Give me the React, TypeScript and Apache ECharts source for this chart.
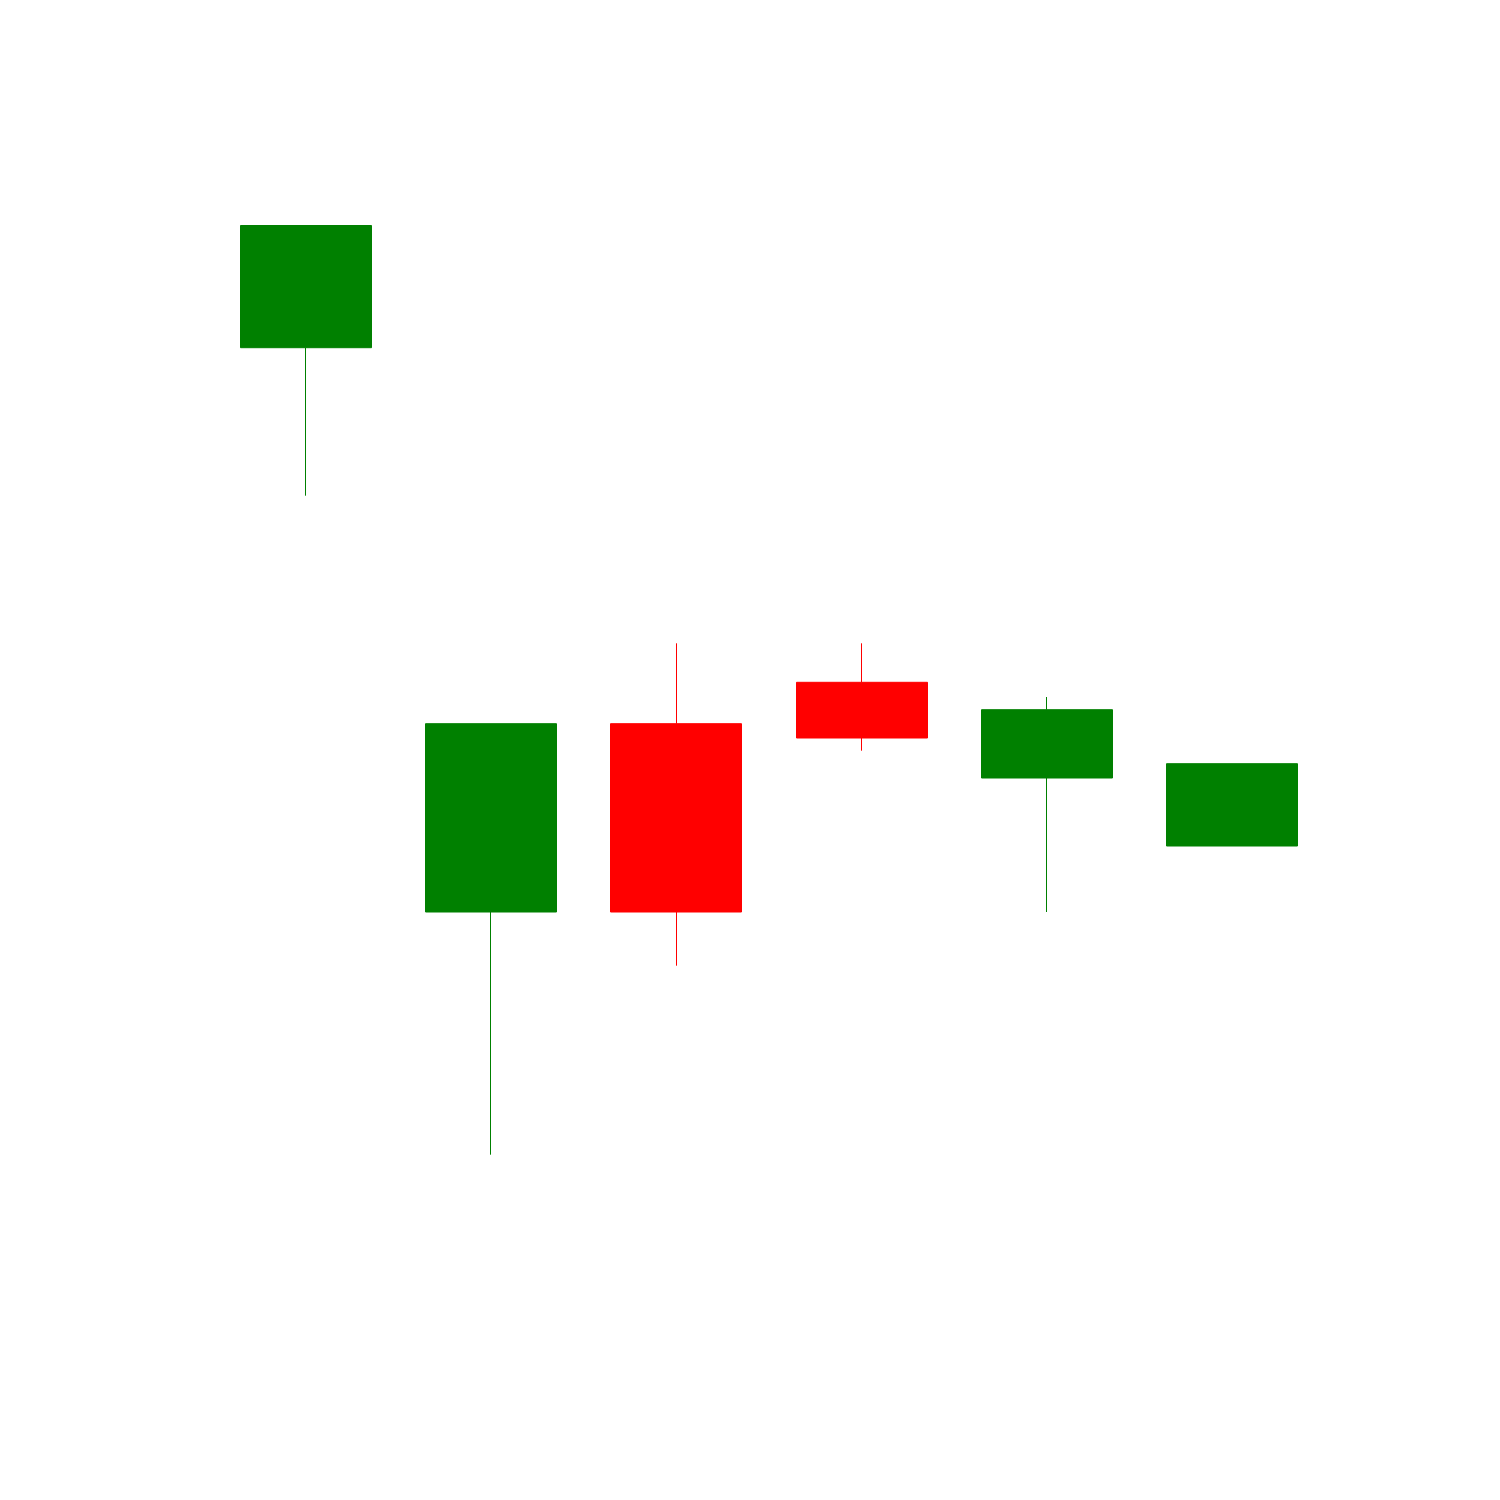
import React, { useEffect, useRef } from "react";
import * as echarts from "echarts";

const categories = ["1", "2", "3", "4", "5", "6"];
const opens = [107.45, 57.63, 38.8, 56.2, 59.03, 53.63];
const closes = [95.23, 38.8, 57.63, 61.77, 52.2, 45.4];
const lows = [80.43, 14.53, 33.43, 54.93, 38.8, 45.4];
const highs = [107.45, 57.63, 65.67, 65.67, 60.3, 53.63];

export default function App() {
  const ref = useRef<HTMLDivElement>(null);
  useEffect(() => {
    if (!ref.current) return;
    const chart = echarts.init(ref.current, null, { renderer: "svg" });
    const data = categories.map((_, i) => [opens[i], closes[i], lows[i], highs[i]]);
    chart.setOption({
      animation: false,
      backgroundColor: "#ffffff",
      grid: { left: 213, right: 175, top: 100, bottom: 200 },
      xAxis: {
        type: "category",
        data: categories,
        show: false,
        boundaryGap: true,
      },
      yAxis: {
        type: "value",
        min: 0,
        max: 120,
        show: false,
        splitLine: { show: false },
      },
      series: [
        {
          type: "candlestick",
          data,
          barWidth: "71%",
          itemStyle: {
            color: "#ff0000",
            color0: "#008000",
            borderColor: "#ff0000",
            borderColor0: "#008000",
            borderWidth: 1,
          },
        },
      ],
    });
    return () => chart.dispose();
  }, []);
  return (
    <div
      ref={ref}
      style={{ position: "absolute", left: 0, top: 0, width: 1500, height: 1500 }}
    />
  );
}
